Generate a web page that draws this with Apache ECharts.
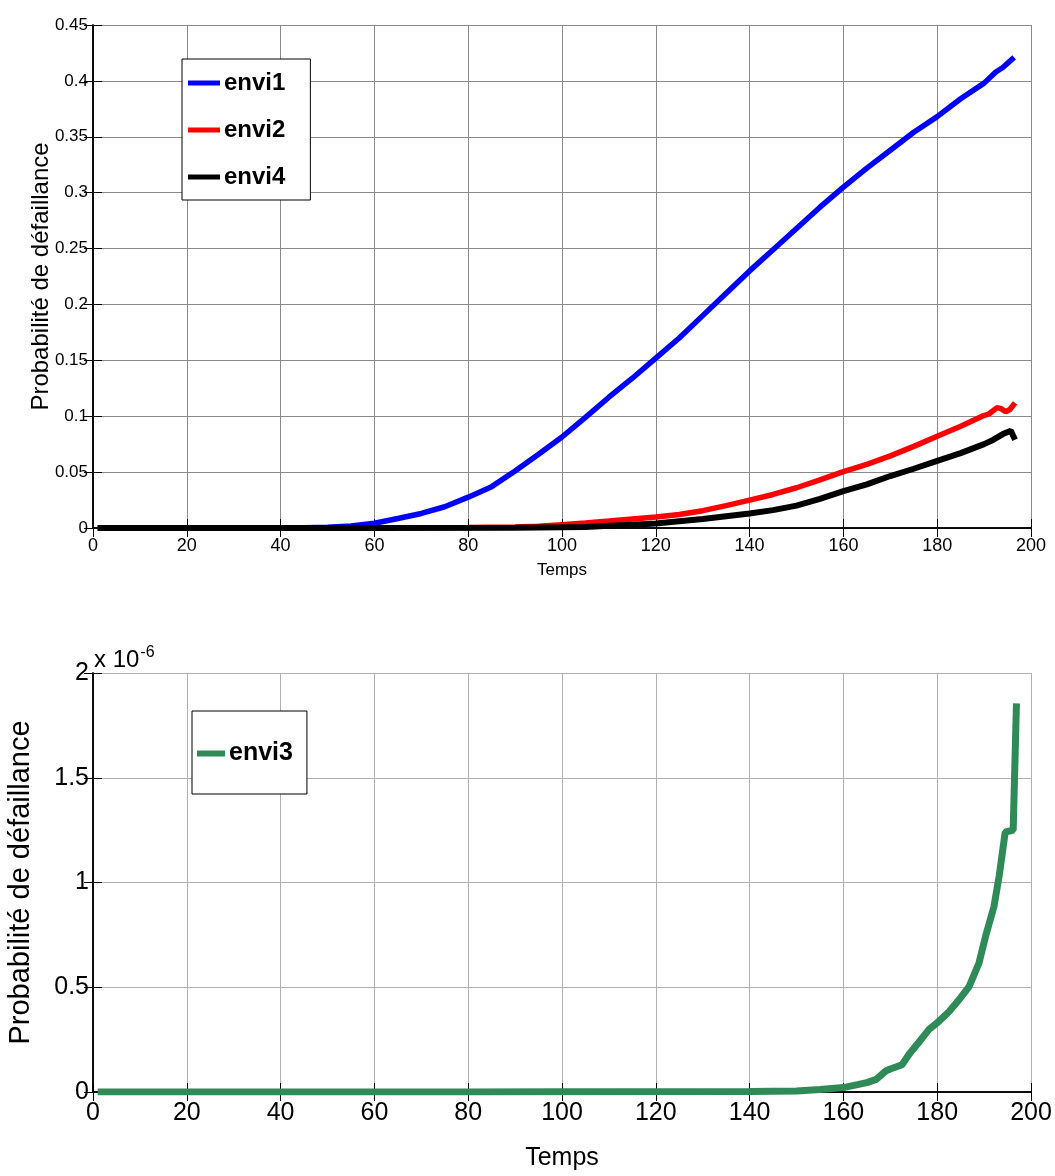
<!DOCTYPE html>
<html>
<head>
<meta charset="utf-8">
<script src="https://cdn.jsdelivr.net/npm/echarts@6/dist/echarts.min.js"></script>
<style>
html,body{margin:0;padding:0;background:#fff;}
#c{width:1055px;height:1176px;}
</style>
</head>
<body>
<div id="c"></div>
<script>
// ---- Data ----
const xTicks = [0, 20, 40, 60, 80, 100, 120, 140, 160, 180, 200];

const timeEnvi1 = [1, 10, 20, 30, 40, 45, 50, 55, 60, 65, 70, 75, 80, 85, 90, 95, 100, 105, 110, 115, 120, 125, 130, 135, 140, 145, 150, 155, 160, 165, 170, 175, 180, 185, 190, 192.5, 194, 196.4];
const envi1 = [0, 0, 0.0001, 0.0001, 0.0002, 0.0003, 0.0006, 0.0018, 0.0043, 0.0085, 0.013, 0.019, 0.0276, 0.037, 0.051, 0.066, 0.0814, 0.099, 0.117, 0.134, 0.152, 0.17, 0.19, 0.21, 0.23, 0.249, 0.268, 0.287, 0.305, 0.322, 0.338, 0.354, 0.368, 0.384, 0.398, 0.408, 0.412, 0.421];

const timeEnvi2 = [1, 30, 60, 80, 90, 95, 100, 105, 110, 115, 120, 125, 130, 135, 140, 145, 150, 155, 160, 165, 170, 175, 180, 185, 189.6, 191, 192.7, 193.5, 194.6, 195.5, 196.6];
const envi2 = [0, 0.0001, 0.0002, 0.0004, 0.0008, 0.0015, 0.003, 0.0045, 0.0062, 0.008, 0.0098, 0.012, 0.0155, 0.02, 0.025, 0.030, 0.036, 0.043, 0.0505, 0.057, 0.0645, 0.073, 0.082, 0.091, 0.1, 0.102, 0.1075, 0.107, 0.104, 0.106, 0.112];

const timeEnvi4 = [1, 30, 60, 90, 100, 105, 110, 115, 120, 125, 130, 135, 140, 145, 150, 155, 160, 165, 170, 175, 180, 185, 190, 192, 194, 195.7, 196.6];
const envi4 = [0, 0, 0, 0.0002, 0.0007, 0.001, 0.002, 0.003, 0.004, 0.006, 0.008, 0.0105, 0.013, 0.016, 0.02, 0.026, 0.033, 0.039, 0.0465, 0.053, 0.06, 0.067, 0.075, 0.079, 0.084, 0.087, 0.079];

const timeEnvi3 = [1, 50, 80, 100, 140, 150, 155, 160, 163, 165, 167, 169, 170, 172.5, 174, 176, 178.3, 180, 182.5, 185, 186.8, 188.9, 190.3, 192.1, 193.2, 194.5, 196.2, 196.9];
const envi3 = [0, 0, 0.0005e-6, 0.001e-6, 0.002e-6, 0.005e-6, 0.012e-6, 0.021e-6, 0.035e-6, 0.045e-6, 0.06e-6, 0.1e-6, 0.11e-6, 0.13e-6, 0.18e-6, 0.235e-6, 0.3e-6, 0.33e-6, 0.383e-6, 0.45e-6, 0.503e-6, 0.615e-6, 0.742e-6, 0.885e-6, 1.03e-6, 1.24e-6, 1.25e-6, 1.855e-6];

const topYTicks = [0, 0.05, 0.1, 0.15, 0.2, 0.25, 0.3, 0.35, 0.4, 0.45];
const bottomYTickLabels = ['0', '0.5', '1', '1.5', '2'];

const pairs = (xs, ys) => xs.map((x, i) => [x, ys[i]]);

const SANS = "'Liberation Sans', Arial, sans-serif";

function mainX(gridIndex, fs, nameFs, nameGap, margin, gridColor) {
  return {
    type: 'value', gridIndex, min: xTicks[0], max: xTicks[xTicks.length - 1], interval: 20,
    position: 'bottom',
    name: 'Temps', nameLocation: 'middle', nameGap, nameMoveOverlap: false,
    nameTextStyle: { fontFamily: SANS, fontSize: nameFs, color: '#000' },
    axisLine: { show: true, lineStyle: { color: '#000', width: 1.5 } },
    axisTick: { show: true, inside: true, length: 9, lineStyle: { color: '#000' } },
    axisLabel: { fontFamily: SANS, fontSize: fs, color: '#000', margin },
    splitLine: { show: true, lineStyle: { color: gridColor, width: 1 } }
  };
}
function topX(gridIndex) {
  return {
    type: 'value', gridIndex, min: 0, max: 200, interval: 20, position: 'top',
    axisLine: { show: true, lineStyle: { color: '#000', width: 1.5 } },
    axisTick: { show: true, inside: true, length: 9, lineStyle: { color: '#000' } },
    axisLabel: { show: false }, splitLine: { show: false }
  };
}
function rightY(gridIndex, min, max, interval) {
  return {
    type: 'value', gridIndex, min, max, interval, position: 'right',
    axisLine: { show: true, lineStyle: { color: '#000', width: 1.5 } },
    axisTick: { show: true, inside: true, length: 9, lineStyle: { color: '#000' } },
    axisLabel: { show: false }, splitLine: { show: false }
  };
}

const chart = echarts.init(document.getElementById('c'), null, { renderer: 'canvas' });
chart.setOption({
  animation: false,
  backgroundColor: '#fff',
  grid: [
    { left: 93, top: 25, width: 938, height: 503, containLabel: false, outerBoundsMode: 'none' },
    { left: 93, top: 673, width: 938, height: 419, containLabel: false, outerBoundsMode: 'none' }
  ],
  xAxis: [
    mainX(0, 18, 17, 34, 9, '#8a8a8a'),
    topX(0),
    mainX(1, 25, 25, 54, 9, '#b0b0b0'),
    topX(1)
  ],
  yAxis: [
    {
      type: 'value', gridIndex: 0, min: topYTicks[0], max: topYTicks[topYTicks.length - 1], interval: 0.05,
      position: 'left',
      name: 'Probabilité de défaillance', nameLocation: 'middle', nameGap: 40, nameMoveOverlap: false,
      nameTextStyle: { fontFamily: SANS, fontSize: 24, color: '#000' },
      axisLine: { show: true, lineStyle: { color: '#000', width: 1.5 } },
      axisTick: { show: true, inside: true, length: 9, lineStyle: { color: '#000' } },
      axisLabel: { fontFamily: SANS, fontSize: 17, color: '#000', margin: 5,
        formatter: v => { const t = topYTicks.find(k => Math.abs(k - v) < 1e-9); return t === undefined ? '' : String(t); } },
      splitLine: { show: true, lineStyle: { color: '#8a8a8a', width: 1 } }
    },
    rightY(0, 0, 0.45, 0.05),
    {
      type: 'value', gridIndex: 1, min: 0, max: 2e-6, interval: 0.5e-6,
      position: 'left',
      name: 'Probabilité de défaillance', nameLocation: 'middle', nameGap: 58, nameMoveOverlap: false,
      nameTextStyle: { fontFamily: SANS, fontSize: 29, color: '#000' },
      axisLine: { show: true, lineStyle: { color: '#000', width: 1.5 } },
      axisTick: { show: true, inside: true, length: 9, lineStyle: { color: '#000' } },
      axisLabel: { fontFamily: SANS, fontSize: 25, color: '#000', margin: 4,
        formatter: v => { const i = Math.round(v / 0.5e-6); return bottomYTickLabels[i] || ''; } },
      splitLine: { show: true, lineStyle: { color: '#b0b0b0', width: 1 } }
    },
    rightY(1, 0, 2e-6, 0.5e-6)
  ],
  legend: [
    {
      data: ['envi1', 'envi2', 'envi4'],
      orient: 'vertical', left: 182, top: 59,
      backgroundColor: '#fff', borderColor: '#000', borderWidth: 1,
      padding: [12, 25, 11, 6], itemGap: 23,
      icon: 'rect', itemWidth: 32, itemHeight: 5,
      textStyle: { fontFamily: SANS, fontWeight: 'bold', fontSize: 24, lineHeight: 24, color: '#000', padding: [0, 0, 0, -1] }
    },
    {
      data: ['envi3'],
      orient: 'vertical', left: 192, top: 711,
      backgroundColor: '#fff', borderColor: '#000', borderWidth: 1,
      padding: [30, 14, 28, 5],
      icon: 'rect', itemWidth: 28, itemHeight: 6,
      textStyle: { fontFamily: SANS, fontWeight: 'bold', fontSize: 25, lineHeight: 24, color: '#000', padding: [0, 0, 0, -1] }
    }
  ],
  graphic: [
    {
      type: 'text', left: 94, top: 645,
      style: {
        text: 'x 10{s|-6}',
        font: "24px 'Liberation Sans', Arial, sans-serif",
        fill: '#000',
        rich: { s: { fontFamily: SANS, fontSize: 16, verticalAlign: 'top', padding: [0, 0, 14, 1], fill: '#000' } }
      }
    }
  ],
  series: [
    { name: 'envi1', type: 'line', xAxisIndex: 0, yAxisIndex: 0, data: pairs(timeEnvi1, envi1),
      showSymbol: false, symbol: 'none', lineStyle: { color: '#0000ff', width: 5.5 }, itemStyle: { color: '#0000ff' } },
    { name: 'envi2', type: 'line', xAxisIndex: 0, yAxisIndex: 0, data: pairs(timeEnvi2, envi2),
      showSymbol: false, symbol: 'none', lineStyle: { color: '#ff0000', width: 5.5 }, itemStyle: { color: '#ff0000' } },
    { name: 'envi4', type: 'line', xAxisIndex: 0, yAxisIndex: 0, data: pairs(timeEnvi4, envi4),
      showSymbol: false, symbol: 'none', lineStyle: { color: '#000000', width: 6 }, itemStyle: { color: '#000000' } },
    { name: 'envi3', type: 'line', xAxisIndex: 2, yAxisIndex: 2, data: pairs(timeEnvi3, envi3),
      showSymbol: false, symbol: 'none', lineStyle: { color: '#2e8b57', width: 7 }, itemStyle: { color: '#2e8b57' } }
  ]
});
</script>
</body>
</html>
